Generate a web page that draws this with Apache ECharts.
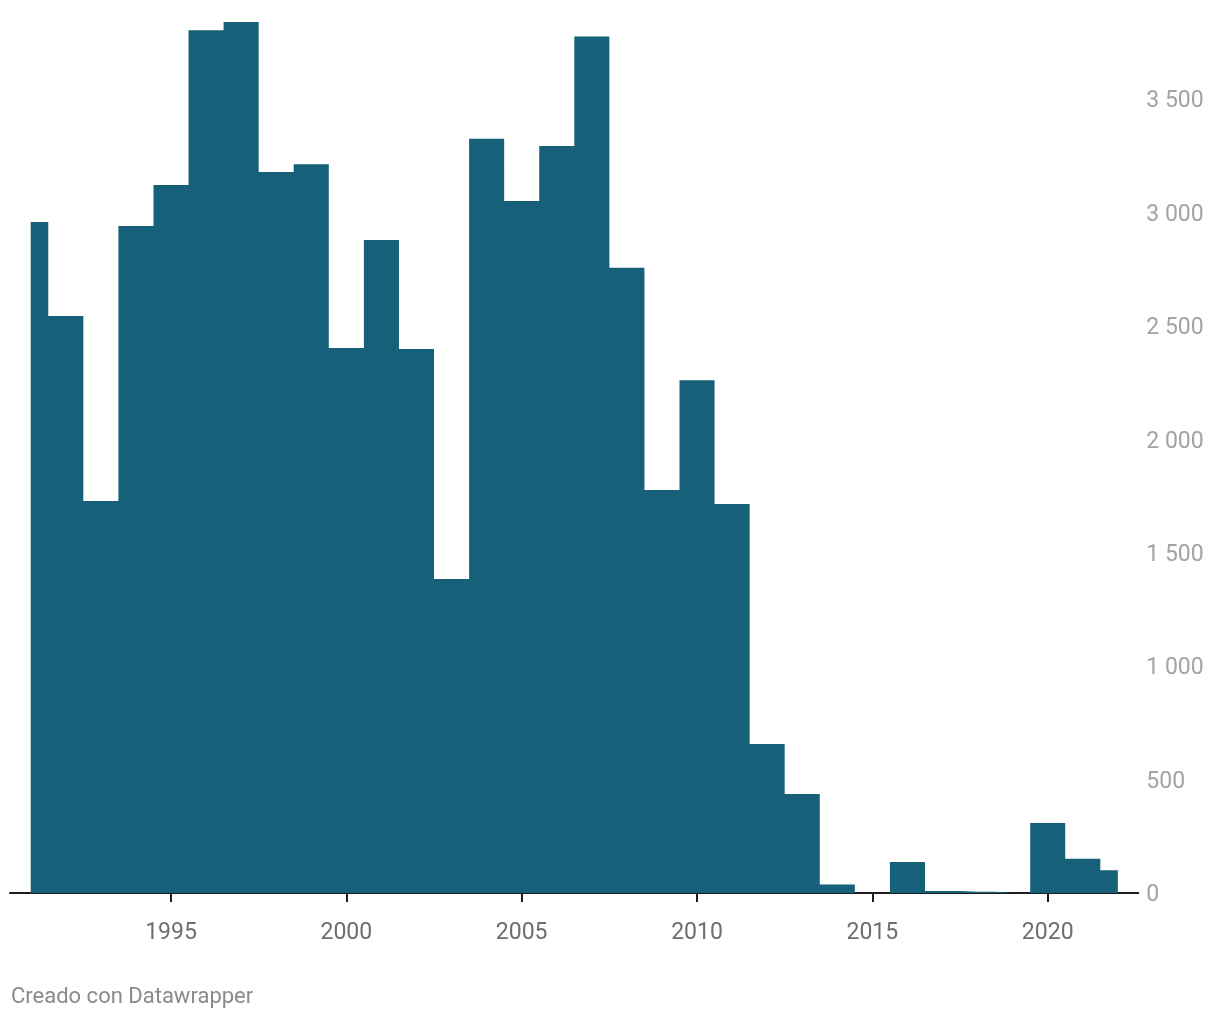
<!DOCTYPE html>
<html>
<head>
<meta charset="utf-8">
<script src="https://cdn.jsdelivr.net/npm/echarts@6/dist/echarts.min.js"></script>
<style>
  html, body { margin: 0; padding: 0; background: #ffffff; }
  #chart { width: 1220px; height: 1020px; }
</style>
</head>
<body>
<div id="chart"></div>
<script>
const years = [1991,1992,1993,1994,1995,1996,1997,1998,1999,2000,2001,2002,2003,2004,2005,2006,2007,2008,2009,2010,2011,2012,2013,2014,2015,2016,2017,2018,2019,2020,2021,2022];
const values = [2958,2543,1728,2940,3121,3803,3839,3178,3212,2402,2878,2398,1384,3325,3050,3293,3775,2756,1776,2260,1715,657,436,38,0,137,9,5,0,309,151,100];
const xTickYears = [1995,2000,2005,2010,2015,2020];
const yTicks = [0,500,1000,1500,2000,2500,3000,3500];
const footerText = 'Creado con Datawrapper';

const chart = echarts.init(document.getElementById('chart'), null, { renderer: 'canvas' });
const fmt = v => String(v).replace(/\B(?=(\d{3})+(?!\d))/g, ' ');

chart.setOption({
  animation: false,
  backgroundColor: '#ffffff',
  textStyle: { fontFamily: 'Roboto' },
  grid: { left: 10, right: 81.7, top: 8.25, bottom: 127, containLabel: false },
  xAxis: {
    type: 'value',
    min: 1990.409,
    max: 2022.583,
    axisLine: { show: true, onZero: false, lineStyle: { color: '#1d1d1d', width: 2 } },
    axisTick: { show: true, customValues: xTickYears, length: 9, lineStyle: { color: '#1d1d1d', width: 2 } },
    axisLabel: { show: true, customValues: xTickYears, color: '#6e6e6e', fontSize: 23, fontFamily: 'Roboto', margin: 29,
      formatter: v => String(Math.round(v)) },
    splitLine: { show: false }
  },
  yAxis: {
    type: 'value',
    position: 'right',
    min: 0,
    max: 3900,
    interval: 500,
    axisLine: { show: false },
    axisTick: { show: false },
    axisLabel: {
      customValues: yTicks,
      color: '#a3a3a3', fontSize: 23, fontFamily: 'Roboto', margin: 8,
      verticalAlign: 'top', lineHeight: 5,
      formatter: v => fmt(v)
    },
    splitLine: { show: false }
  },
  graphic: [{
    type: 'text', left: 11, top: 986,
    style: { text: footerText, fill: '#8a8a8a', font: '22px Roboto' }
  }],
  series: [{
    type: 'line',
    step: 'middle',
    data: years.map((y, i) => [y, values[i]]),
    showSymbol: false,
    lineStyle: { width: 0, color: '#17607a' },
    areaStyle: { color: '#17607a', opacity: 1 },
    z: 1
  }]
});
</script>
</body>
</html>
